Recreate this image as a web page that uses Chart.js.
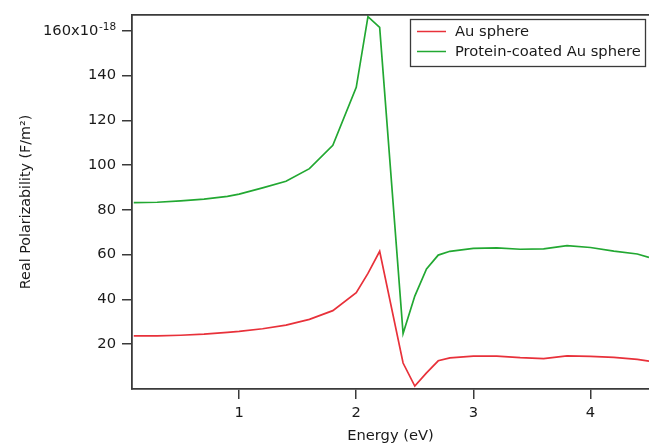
<!DOCTYPE html>
<html>
<head>
<meta charset="utf-8">
<script src="https://cdn.jsdelivr.net/npm/chart.js@4"></script>
<style>
    body { margin: 0; background: #fff; }
    #wrap { width: 649px; height: 445px; }
</style>
</head>
<body>
<div id="wrap"><canvas id="polar-chart"></canvas></div>
<script>
// photon energy (eV)
const energy = [0.1, 0.3, 0.5, 0.7, 0.9, 1.0, 1.2, 1.4, 1.6, 1.8, 2.0, 2.1, 2.2,
                2.4, 2.5, 2.6, 2.7, 2.8, 3.0, 3.2, 3.4, 3.6, 3.8, 4.0, 4.2, 4.4, 4.5];
// real polarizability, x10^-18 F/m^2
const auSphere = [23.7, 23.7, 24.0, 24.5, 25.3, 25.7, 26.9, 28.5, 31.1, 35.0, 43.0, 51.6, 61.5,
                  11.6, 1.3, 7.2, 12.6, 13.9, 14.7, 14.7, 14.0, 13.6, 14.8, 14.6, 14.1, 13.2, 12.4];
const coatedSphere = [83.2, 83.4, 84.0, 84.8, 86.0, 87.0, 89.8, 92.8, 98.4, 108.8, 134.7, 166.3, 161.5,
                      24.8, 41.5, 53.6, 59.8, 61.5, 62.8, 63.0, 62.4, 62.6, 64.0, 63.2, 61.6, 60.3, 58.8];
const seriesNames = ["Au sphere", "Protein-coated Au sphere"];
const seriesColors = ["#e8313a", "#22a832"];
const yExponent = "-18";

const axisColor = "#3a3a3a";
const textColor = "#1a1a1a";
const font = { family: "DejaVu Sans", size: 14.7 };

function toPoints(ys) {
    return energy.map((x, i) => ({ x: x, y: ys[i] }));
}

// top frame line, exponent on top y label, boxed legend
const framePlugin = {
    id: 'frame',
    afterDraw(chart) {
        const ctx = chart.ctx;
        const a = chart.chartArea;
        ctx.save();
        ctx.strokeStyle = axisColor;
        ctx.lineWidth = 1.8;
        ctx.beginPath();
        ctx.moveTo(a.left, a.top);
        ctx.lineTo(a.right, a.top);
        ctx.stroke();

        // exponent of the top y tick
        const yTop = chart.scales.y.getPixelForValue(160);
        ctx.fillStyle = textColor;
        ctx.font = "10.5px " + font.family;
        ctx.textAlign = "left";
        ctx.textBaseline = "alphabetic";
        ctx.fillText(yExponent, 99, yTop - 1);

        // legend
        const bx = 410.5, by = 19.5, bw = 235, bh = 47;
        ctx.fillStyle = "#fff";
        ctx.fillRect(bx, by, bw, bh);
        ctx.lineWidth = 1.3;
        ctx.strokeRect(bx, by, bw, bh);
        ctx.font = font.size + "px " + font.family;
        ctx.textBaseline = "middle";
        chart.data.datasets.forEach((ds, i) => {
            const y = 31.5 + i * 20;
            ctx.strokeStyle = ds.borderColor;
            ctx.lineWidth = 1.5;
            ctx.beginPath();
            ctx.moveTo(417, y);
            ctx.lineTo(446, y);
            ctx.stroke();
            ctx.fillStyle = textColor;
            ctx.fillText(ds.label, 455, y + 0.5);
        });
        ctx.restore();
    }
};

new Chart("polar-chart", {
    type: 'line',
    data: {
        datasets: [{
            label: seriesNames[0],
            data: toPoints(auSphere),
            borderColor: seriesColors[0],
            borderWidth: 1.7,
            pointRadius: 0,
            tension: 0
        }, {
            label: seriesNames[1],
            data: toPoints(coatedSphere),
            borderColor: seriesColors[1],
            borderWidth: 1.7,
            pointRadius: 0,
            tension: 0
        }]
    },
    options: {
        responsive: true,
        maintainAspectRatio: false,
        animation: false,
        layout: { padding: { top: 13, left: 0, right: 0, bottom: 0 } },
        plugins: {
            legend: { display: false },
            tooltip: { enabled: false }
        },
        scales: {
            x: {
                type: 'linear',
                min: 0.085,
                max: 4.5,
                afterFit(scale) { scale.height = 56; },
                grid: { drawOnChartArea: false, tickLength: 10, color: axisColor, lineWidth: 1.5 },
                border: { display: true, color: axisColor, width: 1.8 },
                ticks: {
                    stepSize: 1,
                    includeBounds: false,
                    padding: 5,
                    color: textColor,
                    font: font,
                    maxRotation: 0
                },
                title: {
                    display: true,
                    text: "Energy (eV)",
                    color: textColor,
                    font: font,
                    padding: { top: 0, bottom: 0 }
                }
            },
            y: {
                min: 0,
                max: 167.1,
                afterFit(scale) { scale.width = 132; },
                afterBuildTicks(scale) {
                    scale.ticks = scale.ticks.filter(t => t.value > 0);
                },
                grid: { drawOnChartArea: false, tickLength: 10, color: axisColor, lineWidth: 1.5 },
                border: { display: true, color: axisColor, width: 1.8 },
                ticks: {
                    stepSize: 20,
                    includeBounds: false,
                    padding: 6,
                    color: textColor,
                    font: font,
                    // room left at the end for the exponent
                    callback: function(v) {
                        return v == 160 ? "160x10\u2003\u2009" : v;
                    }
                },
                title: {
                    display: true,
                    text: "Real Polarizability (F/m\u00B2)",
                    color: textColor,
                    font: { family: font.family, size: 14.3 },
                    padding: { top: 18, bottom: 0 }
                }
            }
        }
    },
    plugins: [framePlugin]
});
</script>
</body>
</html>
